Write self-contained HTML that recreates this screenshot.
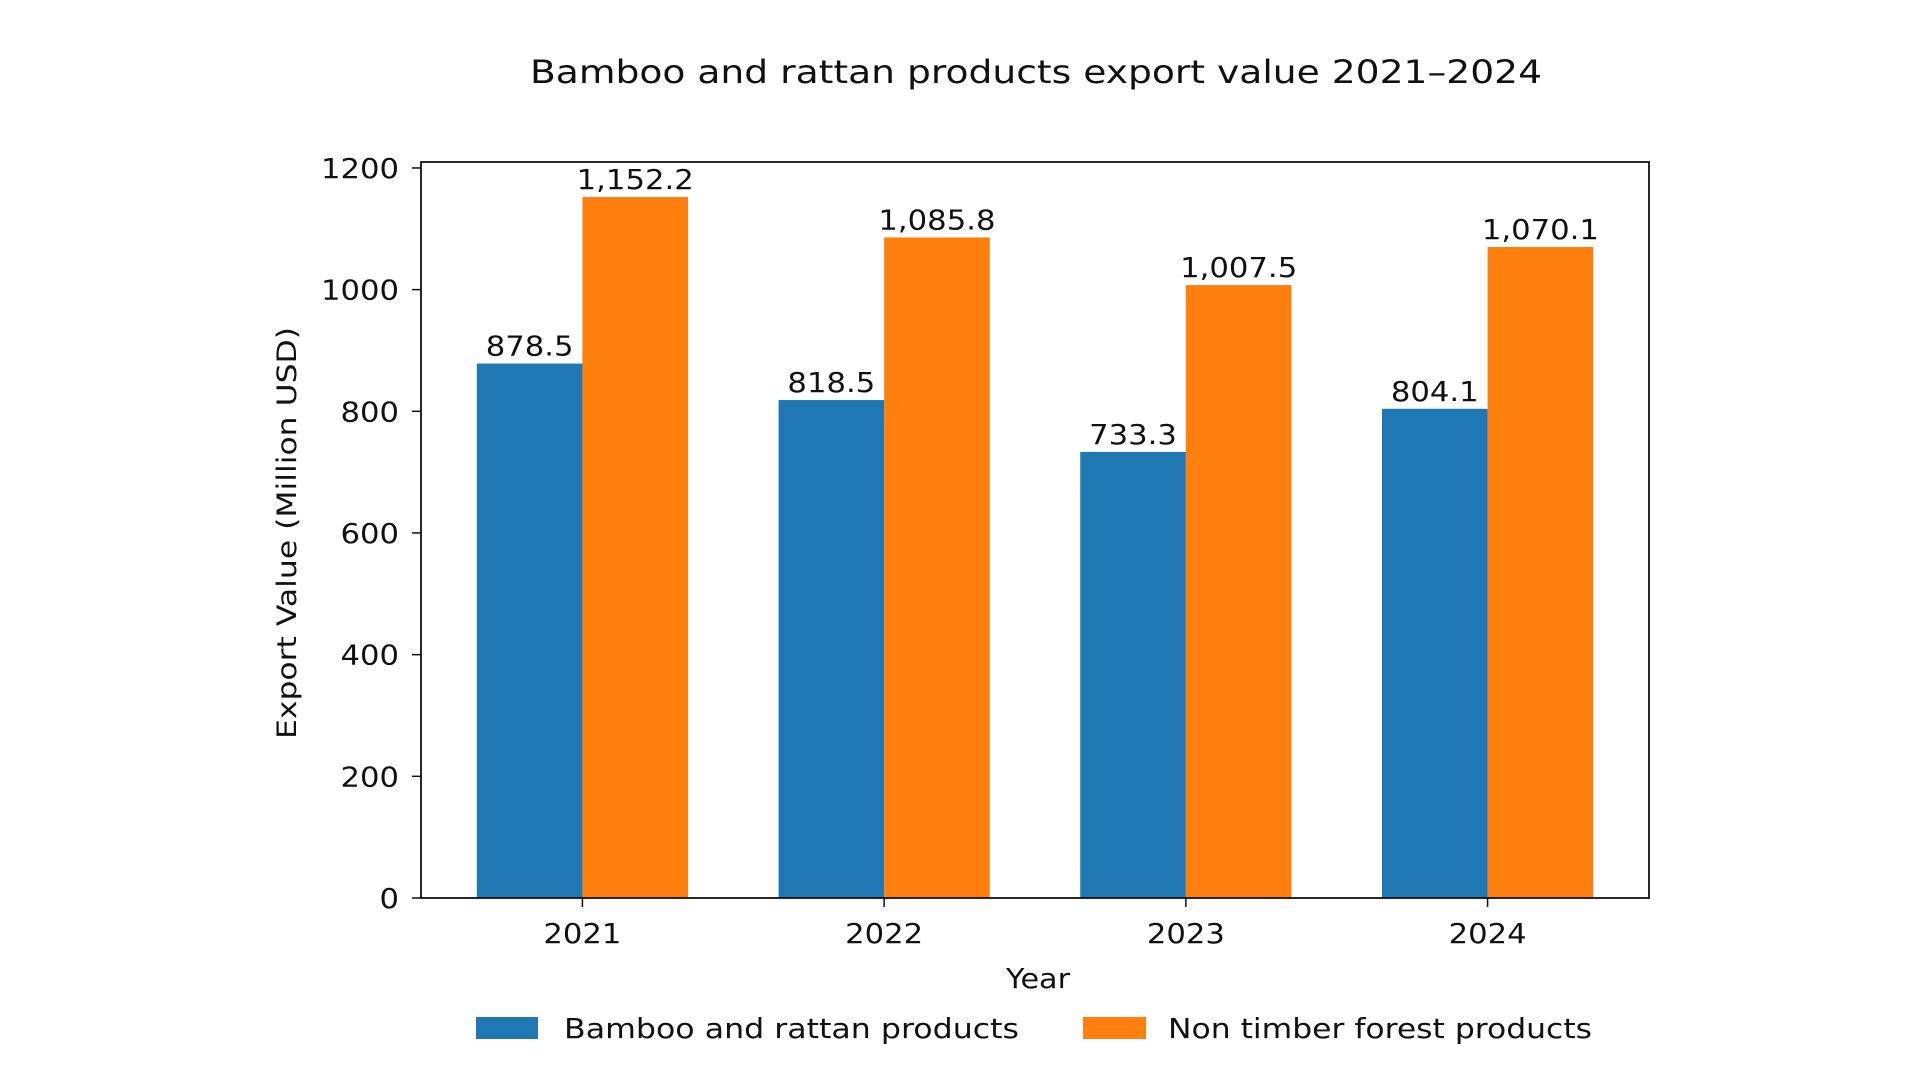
<!DOCTYPE html>
<html><head><meta charset="utf-8"><style>
html,body{margin:0;padding:0;background:#fff;}
svg{display:block;font-family:"DejaVu Sans","Liberation Sans",sans-serif;}
</style></head><body>
<svg id="chart" width="1920" height="1080" viewBox="0 0 1920 1080">
<text x="1036" y="83" font-size="32" text-anchor="middle" fill="#111" textLength="1012" lengthAdjust="spacingAndGlyphs">Bamboo and rattan products export value 2021–2024</text>
<g id="plot"></g>
<text transform="translate(296,533) rotate(-90)" font-size="27" text-anchor="middle" fill="#111" textLength="412" lengthAdjust="spacingAndGlyphs">Export Value (Million USD)</text>
<text x="1038" y="988" font-size="28" text-anchor="middle" fill="#111" textLength="64" lengthAdjust="spacingAndGlyphs">Year</text>
<g>
<g>
<rect x="476" y="1017" width="62" height="22" fill="#1f77b4"/>
<text x="564" y="1038" font-size="28" fill="#111" textLength="455" lengthAdjust="spacingAndGlyphs">Bamboo and rattan products</text>
</g>
<g>
<rect x="1083" y="1017" width="63" height="22" fill="#ff7f0e"/>
<text x="1168" y="1038" font-size="28" fill="#111" textLength="424" lengthAdjust="spacingAndGlyphs">Non timber forest products</text>
</g>
</g>
</svg>
<script>
const categories = ["2021","2022","2023","2024"];
const bambooValues = [878.5, 818.5, 733.3, 804.1];
const ntfpValues = [1152.2, 1085.8, 1007.5, 1070.1];
const yTicks = [0,200,400,600,800,1000,1200];
const bambooLabels = ["878.5","818.5","733.3","804.1"];
const ntfpLabels = ["1,152.2","1,085.8","1,007.5","1,070.1"];

const NS = "http://www.w3.org/2000/svg";
const L = 421, R = 1649, T = 162, B = 898;
const xMin = -0.535, xMax = 3.535, yMin = 0, yMax = 1209.8;
const barW = 0.35;
function xs(v){ return L + (v - xMin) / (xMax - xMin) * (R - L); }
function ys(v){ return B - (v - yMin) / (yMax - yMin) * (B - T); }
function tlen(s){ let n = 0; for (const ch of String(s)) n += /[0-9]/.test(ch) ? 19.5 : 9.8; return n; }
const plot = document.getElementById('plot');
function mk(tag, attrs){ const e = document.createElementNS(NS, tag); for (const k in attrs) e.setAttribute(k, attrs[k]); plot.appendChild(e); return e; }

function drawSeries(vals, labels, offset, color, name){
  vals.forEach((v, i) => {
    const x0 = xs(i + offset - barW/2), x1 = xs(i + offset + barW/2);
    const r = mk('rect', {x: x0, y: ys(v), width: x1 - x0, height: ys(0) - ys(v), fill: color});
    
    
    const t = mk('text', {x: (x0 + x1)/2, y: ys(v) - 8, 'font-size': 28, 'text-anchor': 'middle', fill: '#111', textLength: tlen(labels[i]), lengthAdjust: 'spacingAndGlyphs'});
    t.textContent = labels[i];
    
    
  });
}
drawSeries(bambooValues, bambooLabels, -0.175, '#1f77b4', 'bamboo');
drawSeries(ntfpValues, ntfpLabels, 0.175, '#ff7f0e', 'ntfp');

yTicks.forEach(v => {
  const y = ys(v);
  const l = mk('line', {x1: L - 9, x2: L, y1: y, y2: y, stroke: '#111', 'stroke-width': 1.5});
  
  
  const t = mk('text', {x: L - 22, y: y + 10, 'font-size': 28, 'text-anchor': 'end', fill: '#111', textLength: tlen(v), lengthAdjust: 'spacingAndGlyphs'});
  t.textContent = v;
  
  
});
categories.forEach((c, i) => {
  const x = xs(i);
  const l = mk('line', {x1: x, x2: x, y1: B, y2: B + 9, stroke: '#111', 'stroke-width': 1.5});
  
  
  const t = mk('text', {x: x, y: B + 45, 'font-size': 28, 'text-anchor': 'middle', fill: '#111', textLength: tlen(c), lengthAdjust: 'spacingAndGlyphs'});
  t.textContent = c;
  
  
});
const frame = mk('rect', {x: L, y: T, width: R - L, height: B - T, fill: 'none', stroke: '#111', 'stroke-width': 1.8});


</script>
</body></html>
